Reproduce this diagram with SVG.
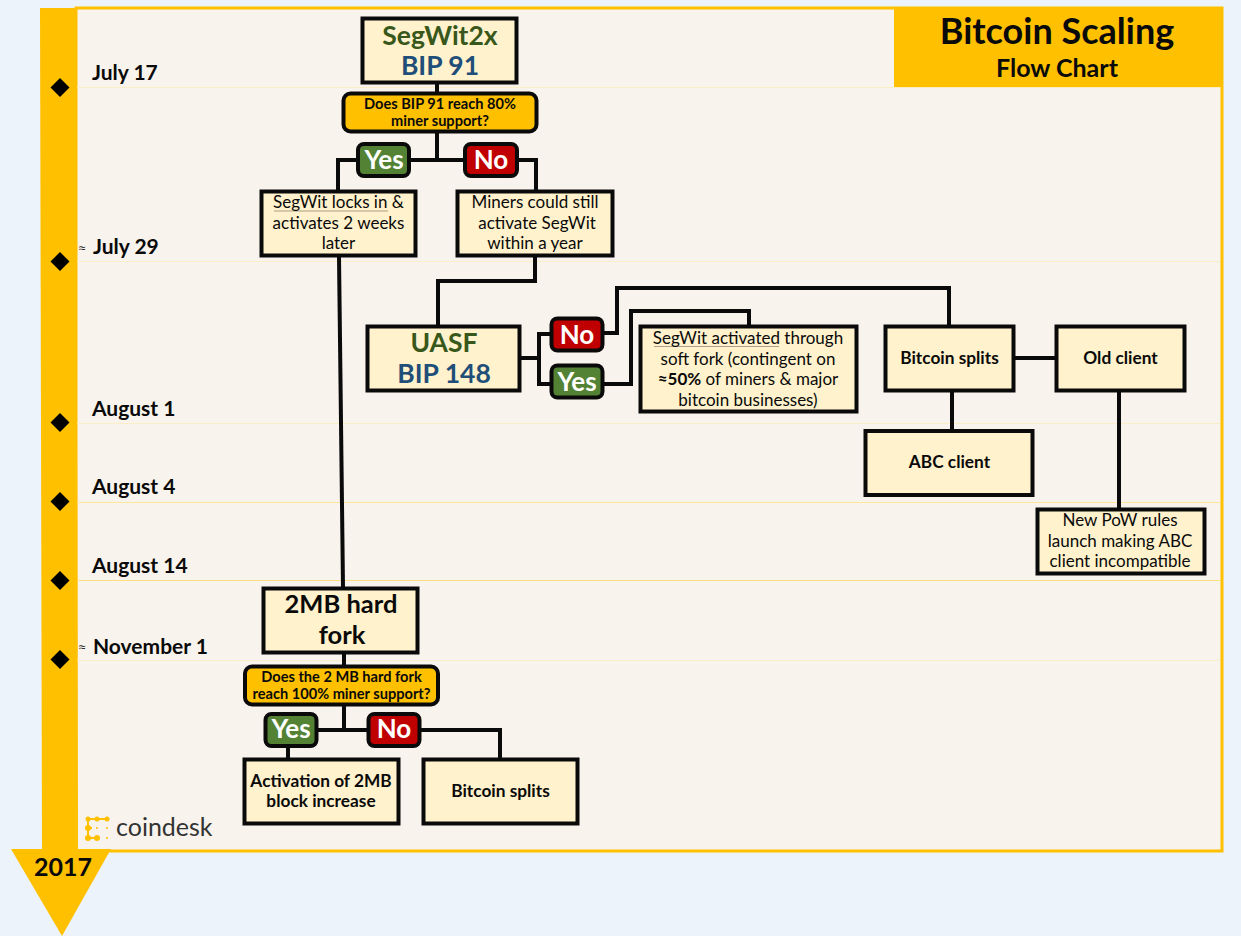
<svg xmlns="http://www.w3.org/2000/svg" width="1241" height="936" viewBox="0 0 1241 936">
<style>
text{font-family:"Lato","Open Sans","Liberation Sans",sans-serif;text-anchor:middle;fill:#0a0a0a}
.box{fill:#fff2cc;stroke:#0a0a0a;stroke-width:4}
.q{fill:#ffc000;stroke:#0a0a0a;stroke-width:4}
.y{fill:#548235;stroke:#0a0a0a;stroke-width:4}
.n{fill:#c00000;stroke:#0a0a0a;stroke-width:4}
.c{fill:none;stroke:#0a0a0a;stroke-width:4}
.g{stroke:#fbeec7;stroke-width:1.2}
.d{fill:#000}
.date{font-size:21px;font-weight:700;text-anchor:start}
.approx{font-size:12px;text-anchor:start;font-family:"Liberation Sans",sans-serif}
.big{font-size:26.500px;font-weight:700}
.body{font-size:17px}
.bold{font-size:17.300px;font-weight:700}
.qt{font-size:14.600px;font-weight:700}
.tag{font-size:26px;font-weight:700;fill:#fff}
.green{fill:#38571a}.blue{fill:#1f4e79}
.u{stroke:#a89f86;stroke-width:1}
</style>
<rect width="1241" height="936" fill="#ecf3fb"/>
<g id="panel">
<rect x="76" y="8" width="1146" height="843" fill="#f8f3ec" stroke="#ffc000" stroke-width="3"/>
<polygon points="40,8 76,8 78,850 42,850" fill="#ffc000"/>
<polygon points="11,849 111,849 62,936" fill="#ffc000"/>
<rect x="894" y="9" width="328" height="78" fill="#ffc000"/>
<line class="g" x1="77" y1="87.500" x2="1220" y2="87.500"/>
<line class="g" x1="77" y1="261.500" x2="1220" y2="261.500"/>
<line class="g" x1="77" y1="423.500" x2="1220" y2="423.500"/>
<line class="g" x1="77" y1="502.500" x2="1220" y2="502.500" style="stroke:#ffe699"/>
<line class="g" x1="77" y1="580.500" x2="1220" y2="580.500" style="stroke:#ffdf80"/>
<line class="g" x1="77" y1="660.500" x2="1220" y2="660.500"/>
</g>
<g id="title">
<text x="1057" y="44" font-size="36" font-weight="700">Bitcoin Scaling</text>
<text x="1057" y="77" font-size="25" font-weight="700">Flow Chart</text>
</g>
<g id="timeline">
<polygon class="d" points="60,78 69.500,87.500 60,97 50.500,87.500"/>
<polygon class="d" points="60,252 69.500,261.500 60,271 50.500,261.500"/>
<polygon class="d" points="60,413 69.500,422.500 60,432 50.500,422.500"/>
<polygon class="d" points="60,492 69.500,501.500 60,511 50.500,501.500"/>
<polygon class="d" points="60,571 69.500,580.500 60,590 50.500,580.500"/>
<polygon class="d" points="60,650 69.500,659.500 60,669 50.500,659.500"/>
<text class="date" x="92" y="80">July 17</text>
<text class="approx" x="79" y="252">≈</text><text class="date" x="93" y="254">July 29</text>
<text class="date" x="92" y="416">August 1</text>
<text class="date" x="92" y="494">August 4</text>
<text class="date" x="92" y="573">August 14</text>
<text class="approx" x="79" y="651">≈</text><text class="date" x="93" y="654">November 1</text>
<text x="63" y="876" font-size="25" font-weight="700">2017</text>
</g>
<g id="connectors">
<path class="c" d="M437 84V160M338 190V160H536V190"/>
<path class="c" d="M339 257L343 587"/>
<path class="c" d="M535 257V281H438V325"/>
<path class="c" d="M521 358H539M552 334H539V384H552"/>
<path class="c" d="M604 333H617V288H949V325"/>
<path class="c" d="M604 384H631V311H749V325"/>
<path class="c" d="M1015 358H1055"/>
<path class="c" d="M952 392V429"/>
<path class="c" d="M1119 392V508"/>
<path class="c" d="M344 653V730M318 730H367M421 730H500V759"/>
<path class="c" d="M288 747V759"/>
</g>
<g id="n-segwit2x"><rect class="box" x="362.500" y="18.500" width="154" height="64"/>
<text class="big green" x="440" y="45">SegWit2x</text><text class="big blue" x="440" y="75">BIP 91</text></g>
<g id="q-bip91"><rect class="q" x="343.500" y="93.500" width="193" height="38" rx="7"/>
<text class="qt" x="440" y="109">Does BIP 91 reach 80%</text><text class="qt" x="440" y="126">miner support?</text></g>
<g id="yes-1"><rect class="y" x="358" y="144" width="51" height="32" rx="6"/><text class="tag" x="384" y="169">Yes</text></g>
<g id="no-1"><rect class="n" x="465" y="144" width="52" height="32" rx="6"/><text class="tag" x="491" y="169">No</text></g>
<g id="n-locks"><rect class="box" x="261.500" y="191.500" width="154" height="64"/>
<line class="u" x1="274" y1="211" x2="388" y2="211"/>
<text class="body" x="338.500" y="208">SegWit locks in &amp;</text><text class="body" x="338.500" y="229">activates 2 weeks</text><text class="body" x="338.500" y="249">later</text></g>
<g id="n-miners"><rect class="box" x="457.500" y="191.500" width="155" height="64"/>
<text class="body" x="535" y="208">Miners could still</text><text class="body" x="537" y="229">activate SegWit</text><text class="body" x="535" y="249">within a year</text></g>
<g id="n-uasf"><rect class="box" x="367.500" y="326.500" width="152" height="64"/>
<text class="big green" x="444" y="352">UASF</text><text class="big blue" x="444" y="383">BIP 148</text></g>
<g id="no-2"><rect class="n" x="551.500" y="318.500" width="51" height="32" rx="6"/><text class="tag" x="577" y="343.500">No</text></g>
<g id="yes-2"><rect class="y" x="551.500" y="365.500" width="51" height="32" rx="6"/><text class="tag" x="577" y="390.500">Yes</text></g>
<g id="n-softfork"><rect class="box" x="640.500" y="326.500" width="216" height="85"/>
<line class="u" x1="654" y1="346.500" x2="779" y2="346.500"/>
<text class="body" x="748" y="344">SegWit activated through</text><text class="body" x="748" y="365">soft fork (contingent on</text><text class="body" x="748" y="385"><tspan font-weight="700">≈50%</tspan> of miners &amp; major</text><text class="body" x="748" y="406">bitcoin businesses)</text></g>
<g id="n-splits"><rect class="box" x="885.500" y="326.500" width="128" height="64"/><text class="bold" x="949.500" y="364">Bitcoin splits</text></g>
<g id="n-old"><rect class="box" x="1056.500" y="326.500" width="128" height="64"/><text class="bold" x="1120.500" y="364">Old client</text></g>
<g id="n-abc"><rect class="box" x="865.500" y="431" width="167" height="64"/><text class="bold" x="949.500" y="468">ABC client</text></g>
<g id="n-pow"><rect class="box" x="1037.500" y="509.500" width="167" height="64"/>
<text class="body" x="1120" y="526">New PoW rules</text><text class="body" x="1120" y="547">launch making ABC</text><text class="body" x="1120" y="567">client incompatible</text></g>
<g id="n-2mb"><rect class="box" x="263.500" y="588.500" width="154" height="64"/>
<text class="big" x="341" y="613" style="font-size:25.500px">2MB hard</text><text class="big" x="342" y="644" style="font-size:25.500px">fork</text></g>
<g id="q-2mb"><rect class="q" x="245" y="666.500" width="193" height="38" rx="7"/>
<text class="qt" x="341.500" y="682">Does the 2 MB hard fork</text><text class="qt" x="341.500" y="699">reach 100% miner support?</text></g>
<g id="yes-3"><rect class="y" x="265.500" y="714" width="51" height="32" rx="6"/><text class="tag" x="291" y="738">Yes</text></g>
<g id="no-3"><rect class="n" x="368.500" y="714" width="51" height="32" rx="6"/><text class="tag" x="394" y="738">No</text></g>
<g id="n-activation"><rect class="box" x="244.500" y="759.500" width="154" height="64"/>
<text class="bold" x="321" y="787">Activation of 2MB</text><text class="bold" x="321" y="807">block increase</text></g>
<g id="n-splits2"><rect class="box" x="423.500" y="759.500" width="154" height="64"/><text class="bold" x="500.500" y="797">Bitcoin splits</text></g>
<g id="logo" fill="#ffc000">
<path d="M88 819H107M88 819V838M88 828H92M88 838H97" fill="none" stroke="#ffc000" stroke-width="2"/>
<circle cx="88" cy="819" r="2.500"/><circle cx="97" cy="819" r="2.500"/><circle cx="107" cy="819" r="2.500"/>
<circle cx="88" cy="828" r="3"/><circle cx="88" cy="838" r="3"/><circle cx="97" cy="838" r="3"/>
<circle cx="97" cy="828" r="1"/><circle cx="107" cy="828" r="1"/><circle cx="107" cy="838" r="1"/>
<text x="116" y="836" font-size="25" style="text-anchor:start;fill:#333">coindesk</text>
</g>
</svg>
